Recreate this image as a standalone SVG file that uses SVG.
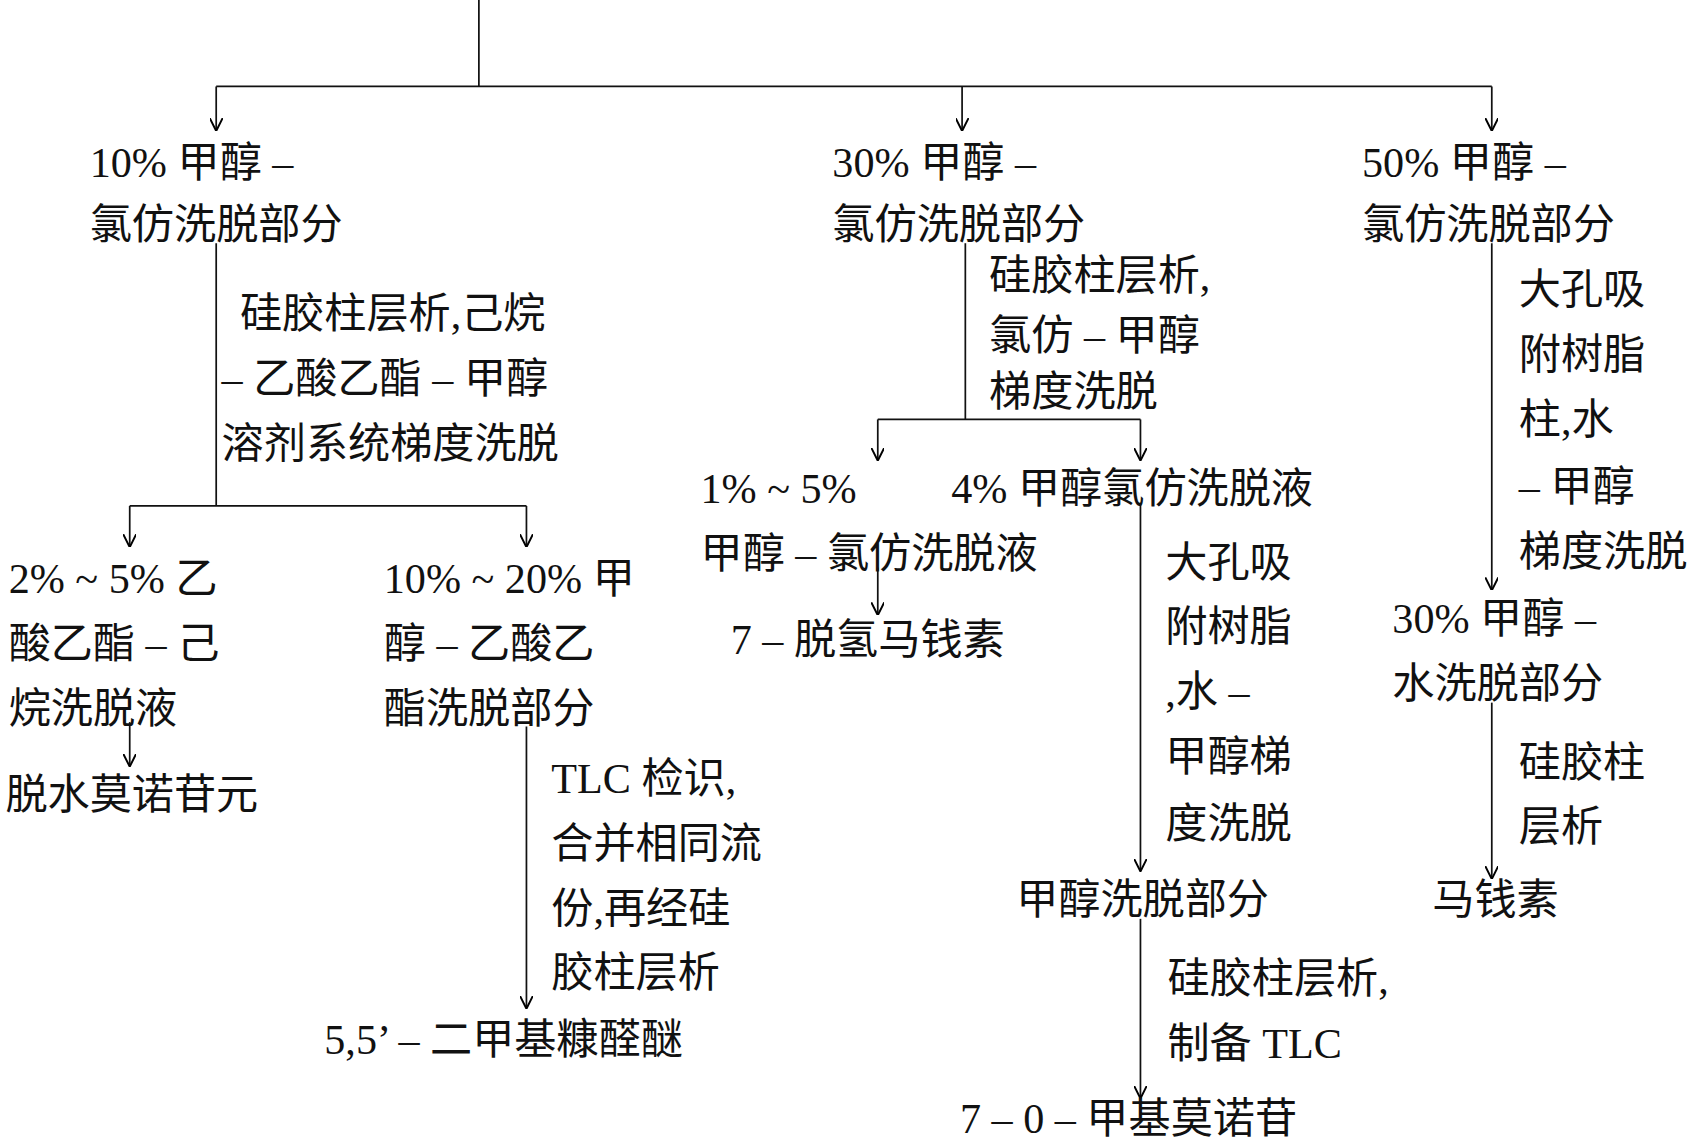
<svg xmlns="http://www.w3.org/2000/svg" width="1695" height="1143" viewBox="0 0 1695 1143">
<defs>
<marker id="ah" viewBox="0 0 10 10" refX="9" refY="5" markerWidth="12" markerHeight="12" markerUnits="userSpaceOnUse" orient="auto"><path d="M0,0 L10,5 L0,10" fill="none" stroke="#000" stroke-width="1.5"/></marker>
<style>
text{font-family:"Liberation Serif","Noto Sans CJK SC",serif;font-size:39px;fill:#111;dominant-baseline:central}
line,path.c{stroke:#111;stroke-width:1.6;fill:none}
.a{marker-end:url(#ah)}
</style>
</defs>
<rect width="1695" height="1143" fill="#fff"/>
<g transform="scale(1.081)">
<g id="connectors">
<line x1="443" y1="0" x2="443" y2="80"/>
<line x1="200" y1="80" x2="1380" y2="80"/>
<line class="a" x1="200" y1="80" x2="200" y2="120"/>
<line class="a" x1="890" y1="80" x2="890" y2="120"/>
<line class="a" x1="1380" y1="80" x2="1380" y2="120"/>
<line x1="200" y1="225" x2="200" y2="468"/>
<line x1="120" y1="468" x2="487" y2="468"/>
<line class="a" x1="120" y1="468" x2="120" y2="505"/>
<line class="a" x1="487" y1="468" x2="487" y2="505"/>
<line class="a" x1="120" y1="668" x2="120" y2="708"/>
<line class="a" x1="487" y1="672" x2="487" y2="932"/>
<line x1="893" y1="225" x2="893" y2="388"/>
<line x1="812" y1="388" x2="1055" y2="388"/>
<line class="a" x1="812" y1="388" x2="812" y2="425"/>
<line class="a" x1="1055" y1="388" x2="1055" y2="425"/>
<line class="a" x1="812" y1="525" x2="812" y2="568"/>
<line class="a" x1="1055" y1="465" x2="1055" y2="805"/>
<line class="a" x1="1055" y1="850" x2="1055" y2="1015"/>
<line class="a" x1="1380" y1="225" x2="1380" y2="545"/>
<line class="a" x1="1380" y1="650" x2="1380" y2="812"/>
</g>
<g id="n1"><text x="83" y="150">10% 甲醇 –</text><text x="83" y="208">氯仿洗脱部分</text></g>
<g id="e1"><text x="222" y="290">硅胶柱层析,己烷</text><text x="205" y="350">– 乙酸乙酯 – 甲醇</text><text x="205" y="410">溶剂系统梯度洗脱</text></g>
<g id="n2"><text x="8" y="535">2% ~ 5% 乙</text><text x="8" y="595">酸乙酯 – 己</text><text x="8" y="655">烷洗脱液</text></g>
<g id="n3"><text x="5" y="735">脱水莫诺苷元</text></g>
<g id="n4"><text x="355" y="535">10% ~ 20% 甲</text><text x="355" y="595">醇 – 乙酸乙</text><text x="355" y="655">酯洗脱部分</text></g>
<g id="e2"><text x="510" y="720">TLC 检识,</text><text x="510" y="780">合并相同流</text><text x="510" y="840">份,再经硅</text><text x="510" y="900">胶柱层析</text></g>
<g id="n5"><text x="300" y="962">5,5’ – 二甲基糠醛醚</text></g>
<g id="n6"><text x="770" y="150">30% 甲醇 –</text><text x="770" y="208">氯仿洗脱部分</text></g>
<g id="e3"><text x="915" y="255">硅胶柱层析,</text><text x="915" y="310">氯仿 – 甲醇</text><text x="915" y="362">梯度洗脱</text></g>
<g id="n7"><text x="648" y="452">1% ~ 5%</text><text x="648" y="512">甲醇 – 氯仿洗脱液</text></g>
<g id="n8"><text x="676" y="592">7 – 脱氢马钱素</text></g>
<g id="n9"><text x="880" y="452">4% 甲醇氯仿洗脱液</text></g>
<g id="e4"><text x="1078" y="520">大孔吸</text><text x="1078" y="580">附树脂</text><text x="1078" y="640">,水 –</text><text x="1078" y="700">甲醇梯</text><text x="1078" y="762">度洗脱</text></g>
<g id="n10"><text x="940" y="832">甲醇洗脱部分</text></g>
<g id="e5"><text x="1080" y="905">硅胶柱层析,</text><text x="1080" y="965">制备 TLC</text></g>
<g id="n11"><text x="888" y="1035">7 – 0 – 甲基莫诺苷</text></g>
<g id="n12"><text x="1260" y="150">50% 甲醇 –</text><text x="1260" y="208">氯仿洗脱部分</text></g>
<g id="e6"><text x="1405" y="268">大孔吸</text><text x="1405" y="328">附树脂</text><text x="1405" y="388">柱,水</text><text x="1405" y="450">– 甲醇</text><text x="1405" y="510">梯度洗脱</text></g>
<g id="n13"><text x="1288" y="572">30% 甲醇 –</text><text x="1288" y="632">水洗脱部分</text></g>
<g id="e7"><text x="1405" y="705">硅胶柱</text><text x="1405" y="765">层析</text></g>
<g id="n14"><text x="1325" y="832">马钱素</text></g>
</g>
</svg>
